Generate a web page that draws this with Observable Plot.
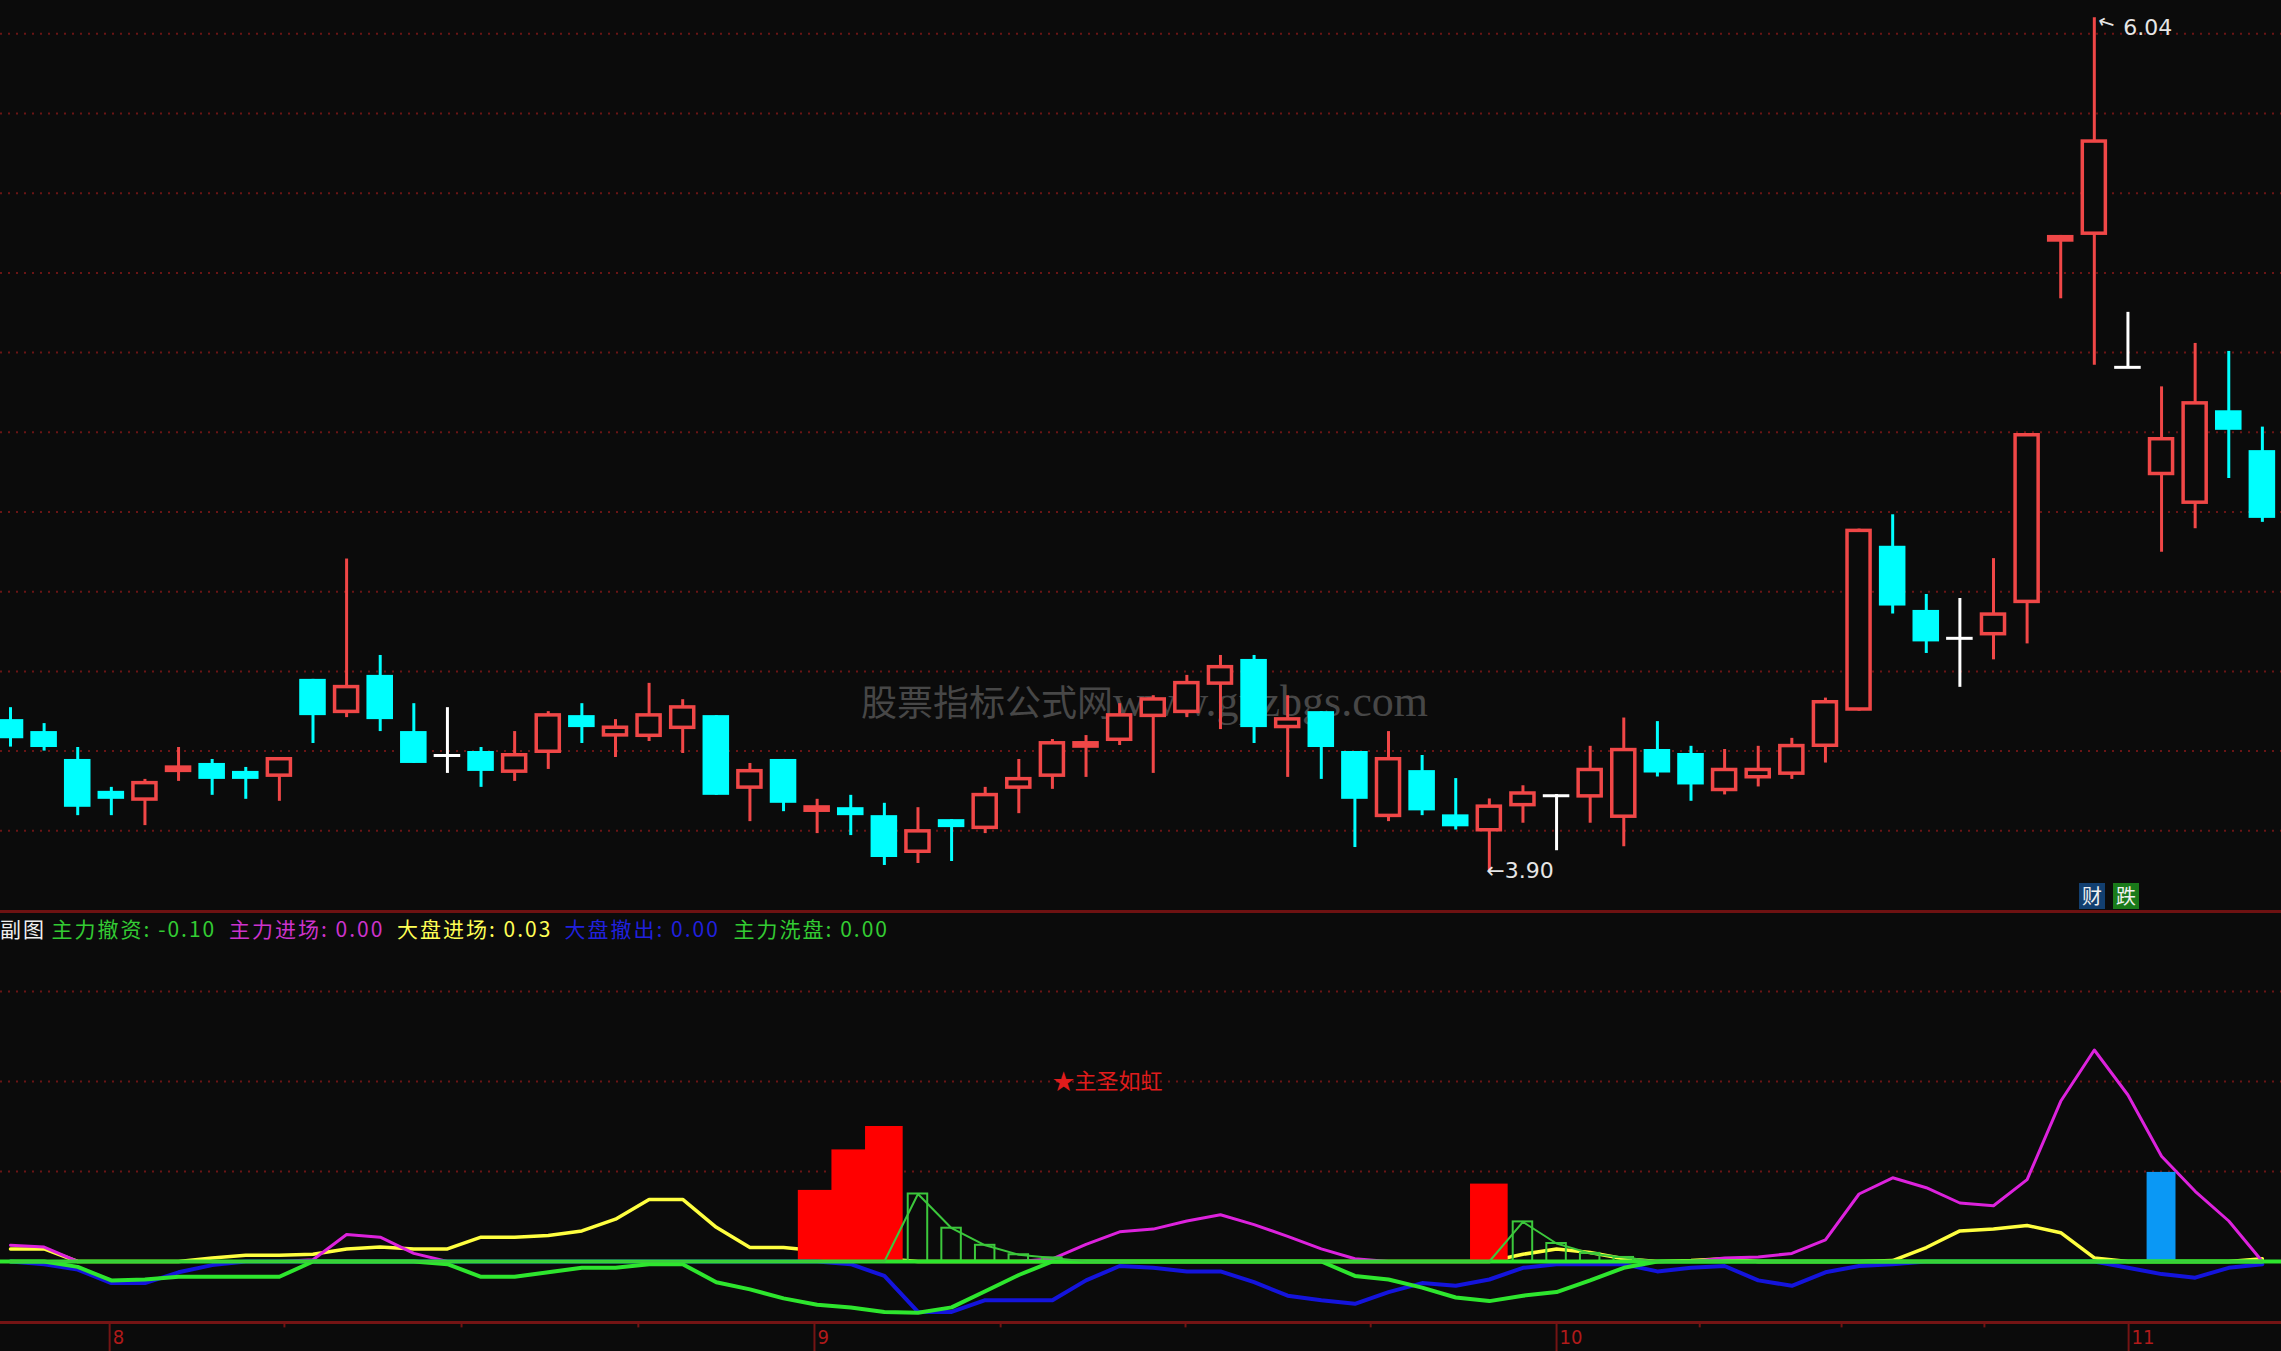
<!DOCTYPE html>
<html>
<head>
<meta charset="utf-8">
<title>主力撤资 副图</title>
<script src="https://cdn.jsdelivr.net/npm/d3@7"></script>
<script src="https://cdn.jsdelivr.net/npm/@observablehq/plot@0.6"></script>
<style>
  html, body { margin: 0; padding: 0; background: #0b0b0b; overflow: hidden; }
  #wrap { position: relative; width: 2281px; height: 1351px; background: #0b0b0b; overflow: hidden; }
  #wm { position: absolute; left: 861px; top: 678px; line-height: 44px; color: #474747; white-space: nowrap; }
  #wm .c { font-size: 36px; font-family: "Noto Sans CJK SC", serif; }
  #wm .l { font-size: 44px; font-family: "Liberation Serif", serif; }
  #main { position: absolute; left: 0; top: 0; }
  #sub { position: absolute; left: 0; top: 912px; }
  #divider { position: absolute; left: 0; top: 910px; width: 2281px; height: 3px; background: #6e1212; }
  .lg { position: absolute; top: 915px; font-size: 21px; line-height: 26px; letter-spacing: 2px;
        font-family: "Noto Sans CJK SC", sans-serif; white-space: nowrap; }
  .badge { position: absolute; top: 883px; width: 26px; height: 26px; color: #f0f0f0;
           font-size: 20px; line-height: 26px; font-family: "Noto Sans CJK SC", sans-serif; text-align: center; }
</style>
</head>
<body>
<div id="wrap">
  <div id="wm"><span class="c">股票指标公式网</span><span class="l">www.gpzbgs.com</span></div>
  <div id="main"></div>
  <div id="sub"></div>
  <div id="divider"></div>
</div>
<script>
// ---------------- DATA ----------------
// Price candles (one per trading day, index 0..67)
const open = [4.279,4.249,4.179,4.099,4.074,4.146,4.169,4.149,4.134,4.380,
              4.294,4.390,4.249,4.189,4.199,4.144,4.194,4.289,4.235,4.234,
              4.254,4.289,4.104,4.179,4.046,4.058,4.038,3.943,4.028,4.003,
              4.104,4.134,4.207,4.224,4.284,4.294,4.365,4.430,4.256,4.299,
              4.199,4.033,4.151,4.040,3.997,4.060,4.088,4.082,4.031,4.204,
              4.194,4.098,4.130,4.139,4.209,4.300,4.714,4.553,4.483,4.489,
              4.570,5.477,5.494,5.163,4.891,4.819,5.054,4.954];
const close = [4.231,4.209,4.059,4.079,4.124,4.163,4.129,4.129,4.184,4.289,
               4.365,4.279,4.169,4.189,4.149,4.194,4.294,4.259,4.263,4.294,
               4.314,4.089,4.154,4.069,4.063,4.038,3.933,4.003,4.008,4.094,
               4.134,4.224,4.224,4.294,4.334,4.375,4.415,4.259,4.284,4.209,
               4.079,4.184,4.050,4.010,4.065,4.098,4.088,4.157,4.207,4.145,
               4.115,4.157,4.157,4.217,4.327,4.757,4.564,4.474,4.483,4.547,
               4.997,5.494,5.734,5.163,4.987,5.077,5.005,4.784];
const high = [4.309,4.269,4.209,4.109,4.129,4.209,4.179,4.159,4.184,4.380,
              4.682,4.440,4.319,4.309,4.209,4.249,4.299,4.319,4.279,4.370,
              4.329,4.289,4.169,4.179,4.079,4.089,4.069,4.058,4.028,4.109,
              4.179,4.229,4.239,4.319,4.339,4.390,4.440,4.440,4.339,4.299,
              4.199,4.249,4.189,4.131,4.080,4.113,4.091,4.212,4.283,4.274,
              4.212,4.204,4.212,4.232,4.333,4.757,4.793,4.593,4.583,4.683,
              4.997,5.494,6.040,5.301,5.114,5.223,5.203,5.013];
const low = [4.210,4.200,4.038,4.038,4.013,4.124,4.089,4.079,4.074,4.219,
             4.284,4.249,4.169,4.144,4.109,4.124,4.154,4.219,4.184,4.224,
             4.194,4.089,4.023,4.048,3.993,3.988,3.913,3.918,3.923,3.993,
             4.043,4.104,4.134,4.214,4.144,4.284,4.254,4.219,4.134,4.129,
             3.958,4.023,4.038,4.002,3.900,4.019,3.950,4.019,3.960,4.135,
             4.074,4.090,4.110,4.129,4.170,4.300,4.544,4.445,4.360,4.429,
             4.469,5.335,5.168,5.163,4.699,4.758,4.884,4.774];
const priceGrid = [4.0,4.2,4.4,4.6,4.8,5.0,5.2,5.4,5.6,5.8,6.0];

// Indicator lines (sub chart)
const zljc = [0.18,0.16,0,0,0,0,0,0,0,0.02,            // 主力进场 (magenta)
              0.30,0.27,0.09,0,0,0,0,0,0,0,
              0,0,0,0,0,0,0,0,0,0,
              0,0.03,0.19,0.33,0.36,0.45,0.52,0.41,0.28,0.14,
              0.03,0,0,0,0,0,0,0,0,0,
              0,0.04,0.05,0.09,0.24,0.75,0.93,0.82,0.65,0.62,
              0.91,1.78,2.35,1.85,1.17,0.78,0.45,0];
const dpjc = [0.14,0.14,0,0,0,0,0.04,0.07,0.07,0.08,      // 大盘进场 (yellow)
              0.14,0.16,0.14,0.14,0.27,0.27,0.29,0.34,0.47,0.69,
              0.69,0.38,0.155,0.155,0.12,0.07,0.03,0,0,0,
              0,0,0,0,0,0,0,0,0,0,
              0,0,0,0,0,0.08,0.14,0.10,0.03,0,
              0.01,0.03,0,0,0,0,0.01,0.155,0.34,0.36,
              0.40,0.32,0.04,0,0,0,0,0.03];
const dpcc = [0,-0.03,-0.09,-0.24,-0.24,-0.12,-0.04,0,0,0,  // 大盘撤出 (blue)
              0,0,0,0,0,0,0,0,0,0,
              0,0,0,0,0,-0.03,-0.16,-0.56,-0.56,-0.43,
              -0.43,-0.43,-0.21,-0.05,-0.07,-0.11,-0.11,-0.23,-0.38,-0.43,
              -0.47,-0.34,-0.24,-0.27,-0.20,-0.07,-0.03,-0.03,-0.03,-0.11,
              -0.07,-0.05,-0.21,-0.27,-0.12,-0.05,-0.03,0,0,0,
              0,0,0,-0.07,-0.14,-0.18,-0.07,-0.03];
const zlcz = [0,0,-0.06,-0.21,-0.20,-0.17,-0.17,-0.17,-0.17,0,   // 主力撤资 (green)
              0,0,0,-0.03,-0.17,-0.17,-0.12,-0.07,-0.07,-0.03,
              -0.03,-0.23,-0.31,-0.41,-0.48,-0.51,-0.56,-0.57,-0.51,-0.33,
              -0.15,0,0,0,0,0,0,0,0,0,
              -0.16,-0.20,-0.29,-0.40,-0.44,-0.38,-0.34,-0.21,-0.07,0,
              0,0,0,0,0,0,0,0,0,0,
              0,0,0,0,0,0,0,0];
const zlxp = [0,0,0,0,0,0,0,0,0,0,                          // 主力洗盘 (thin green)
              0,0,0,0,0,0,0,0,0,0,
              0,0,0,0,0,0,0,0.75,0.37,0.18,
              0.075,0.04,0,0,0,0,0,0,0,0,
              0,0,0,0,0,0.44,0.20,0.09,0.045,0,
              0,0,0,0,0,0,0,0,0,0,
              0,0,0,0,0,0,0,0];
const redBarIdx = [24, 25, 26, 44];
const redBarVal = [0.79, 1.24, 1.50, 0.86];
const blueBarIdx = [64];
const blueBarVal = [0.99];
const subGrid = [1, 2, 3];
const signalIdx = 31, signalVal = 2, signalText = "★主圣如虹";

// Axis ticks
const monthTicks = [2.95, 23.92, 46.0, 63.02];
const monthLabels = ["8", "9", "10", "11"];
const weekTicks = [8.15, 13.42, 18.68, 29.46, 34.96, 40.47, 50.26, 54.48, 58.73];

// Legend
const legendNames = ["主力撤资", "主力进场", "大盘进场", "大盘撤出", "主力洗盘"];
const legendValues = ["-0.10", "0.00", "0.03", "0.00", "0.00"];

// ---------------- STYLE / LAYOUT ----------------
const RED = "#f04747", CYAN = "#00ffff", WHITE = "#ffffff", BG = "#0b0b0b", GRID = "#6a1515";
const AXIS = "#741414";
const legendColors = ["#33cc33", "#cc33cc", "#ffff55", "#2020dd", "#33cc33"];
const legendLeft = [51.6, 229, 397, 564.5, 733.6];
const HW = 0.395; // half candle body width in index units
const X = {domain: [-0.29753, 67.569], range: [0, 2281], axis: null};
const FONT = "DejaVu Sans, Liberation Sans, sans-serif";
const CJK = "Noto Sans CJK SC, sans-serif";

const N = open.length;
const candles = d3.range(N).map(i => ({i, o: open[i], h: high[i], l: low[i], c: close[i]}));
const colorOf = d => d.c > d.o ? RED : d.c < d.o ? CYAN : WHITE;
const hiC = candles.reduce((a, b) => b.h > a.h ? b : a);
const loC = candles.reduce((a, b) => b.l < a.l ? b : a);

const main = Plot.plot({
  width: 2281, height: 912, marginTop: 0, marginBottom: 0, marginLeft: 0, marginRight: 0,
  style: {background: "transparent", overflow: "visible"},
  x: X,
  y: {domain: [3.79498, 6.08356], axis: null},
  marks: [
    Plot.ruleY(priceGrid, {stroke: GRID, strokeWidth: 2, strokeDasharray: "2,6"}),
    Plot.ruleX(candles, {x: "i", y1: "l", y2: "h", stroke: colorOf, strokeWidth: 3}),
    Plot.rect(candles.filter(d => d.c !== d.o), {
      x1: d => d.i - HW, x2: d => d.i + HW, y1: "o", y2: "c",
      fill: d => d.c > d.o ? RED : CYAN
    }),
    Plot.rect(candles.filter(d => d.c > d.o), {
      x1: d => d.i - HW, x2: d => d.i + HW, y1: "o", y2: "c", fill: BG, inset: 3.5
    }),
    Plot.ruleY(candles.filter(d => d.c === d.o), {
      y: "o", x1: d => d.i - HW, x2: d => d.i + HW, stroke: WHITE, strokeWidth: 3
    }),
    Plot.text([hiC], {x: "i", y: "h", text: () => "←", rotate: 18, dx: 12, dy: 5,
      fill: "#e6e6e6", fontSize: 20, fontFamily: FONT}),
    Plot.text([hiC], {x: "i", y: "h", text: d => d.h.toFixed(2), dx: 29, dy: 10, textAnchor: "start",
      fill: "#e6e6e6", fontSize: 22, fontFamily: FONT}),
    Plot.text([loC], {x: "i", y: "l", text: d => "←" + d.l.toFixed(2), dx: -3, dy: 0, textAnchor: "start",
      fill: "#e6e6e6", fontSize: 22, fontFamily: FONT})
  ]
});
document.getElementById("main").appendChild(main);

// ---------------- SUB CHART ----------------
const rows = d3.range(N).map(i => ({i, zljc: zljc[i], dpjc: dpjc[i], dpcc: dpcc[i], zlcz: zlcz[i], zlxp: zlxp[i]}));
const redBars = redBarIdx.map((i, k) => ({i, v: redBarVal[k]}));
const blueBars = blueBarIdx.map((i, k) => ({i, v: blueBarVal[k]}));
const xpBars = rows.filter(d => d.zlxp > 0);
const yLo = -0.67778, yBottom = -1.0;
const months = monthTicks.map((t, k) => ({t, label: monthLabels[k]}));

const sub = Plot.plot({
  width: 2281, height: 439, marginTop: 0, marginBottom: 29, marginLeft: 0, marginRight: 0,
  style: {background: "transparent", overflow: "visible"},
  x: X,
  y: {domain: [yLo, 3.87778], axis: null},
  marks: [
    Plot.ruleY(subGrid, {stroke: GRID, strokeWidth: 2, strokeDasharray: "2,6"}),
    Plot.line(rows, {x: "i", y: "dpjc", stroke: "#ffff40", strokeWidth: 3.5}),
    Plot.line(rows, {x: "i", y: "zljc", stroke: "#dd22dd", strokeWidth: 3}),
    Plot.rect(redBars, {x1: d => d.i - 0.56, x2: d => d.i + 0.56, y1: 0, y2: "v", fill: "#ff0000"}),
    Plot.rect(blueBars, {x1: d => d.i - 0.43, x2: d => d.i + 0.43, y1: 0, y2: "v", fill: "#0a98f5"}),
    Plot.rect(xpBars, {x1: d => d.i - 0.29, x2: d => d.i + 0.29, y1: 0, y2: "zlxp",
      fill: "none", stroke: "#3cc83c", strokeWidth: 2}),
    Plot.line(rows, {x: "i", y: "dpcc", stroke: "#1414dc", strokeWidth: 4}),
    Plot.line(rows, {x: "i", y: "zlcz", stroke: "#2ee62e", strokeWidth: 4}),
    Plot.ruleY([0], {stroke: "#2ee62e", strokeWidth: 4}),
    Plot.line(rows, {x: "i", y: "zlxp", stroke: "#3cc83c", strokeWidth: 2}),
    Plot.text([{i: signalIdx, v: signalVal, t: signalText}], {x: "i", y: "v", text: "t", textAnchor: "start",
      fill: "#e01c1c", fontSize: 22, fontFamily: CJK}),
    // bottom date axis
    Plot.ruleY([yLo], {stroke: AXIS, strokeWidth: 3}),
    Plot.ruleX(monthTicks, {y1: yLo, y2: yBottom, stroke: AXIS, strokeWidth: 2}),
    Plot.ruleX(weekTicks, {y1: yLo, y2: yLo - 0.06, stroke: AXIS, strokeWidth: 2}),
    Plot.text(months, {x: "t", y: -0.85, text: "label", dx: 3, textAnchor: "start",
      fill: "#b01a1a", fontSize: 20, fontFamily: "DejaVu Sans Condensed, DejaVu Sans, sans-serif"})
  ]
});
document.getElementById("sub").appendChild(sub);

// ---------------- LEGEND / LABELS ----------------
const wrap = document.getElementById("wrap");
function addSpan(text, left, color, cls) {
  const s = document.createElement("div");
  s.className = cls;
  s.style.left = left + "px";
  s.style.color = color;
  s.textContent = text;
  wrap.appendChild(s);
  return s;
}
addSpan("副图", 0, "#f0f0f0", "lg");
legendNames.forEach((n, k) => addSpan(n + ": " + legendValues[k], legendLeft[k], legendColors[k], "lg"));
const b1 = addSpan("财", 2079, "#f0f0f0", "badge"); b1.style.background = "#123f70";
const b2 = addSpan("跌", 2113, "#f0f0f0", "badge"); b2.style.background = "#1a7a1a";
</script>
</body>
</html>
